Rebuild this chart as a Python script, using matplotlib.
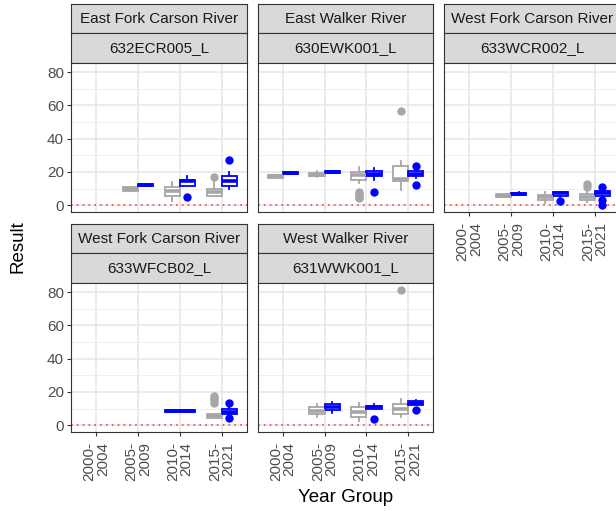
import matplotlib
matplotlib.use("Agg")
import matplotlib.pyplot as plt
from matplotlib.ticker import FixedLocator

plt.rcParams['font.family'] = ['Liberation Sans', 'DejaVu Sans']

# ---------------- data ----------------
year_groups = ["2000-\n2004", "2005-\n2009", "2010-\n2014", "2015-\n2021"]
rivers = ["East Fork Carson River", "East Walker River", "West Fork Carson River",
          "West Fork Carson River", "West Walker River"]
sites = ["632ECR005_L", "630EWK001_L", "633WCR002_L", "633WFCB02_L", "631WWK001_L"]
series_colors = ["#A6A6A6", "#0000FF"]

# box stats per year group: (whisker low, q1, median, q3, whisker high); None = no data
ecr_grey = [None, (8.4, 8.4, 9.8, 11.0, 11.0), (2.8, 5.4, 8.4, 10.8, 13.8), (5.4, 5.4, 7.8, 9.8, 14.4)]
ecr_grey_out = [[], [], [], [17.0]]
ecr_blue = [None, (11.6, 11.6, 12.2, 12.6, 12.6), (11.4, 11.4, 14.6, 15.4, 17.8), (10.0, 11.4, 14.4, 17.8, 19.8)]
ecr_blue_out = [[], [], [5.0], [27.2]]

ewk_grey = [(16.4, 16.6, 17.4, 18.2, 18.4), (17.0, 17.4, 18.4, 19.4, 20.8), (13.4, 15.0, 18.0, 20.0, 22.8), (9.0, 14.4, 15.8, 23.4, 26.8)]
ewk_grey_out = [[], [], [4.2, 5.0, 6.0, 7.0, 8.0], [56.4]]
ewk_blue = [(18.6, 18.6, 19.2, 19.8, 19.8), (19.2, 19.2, 19.8, 20.4, 20.4), (15.4, 17.6, 19.0, 20.4, 22.4), (16.4, 17.6, 19.0, 20.4, 21.8)]
ewk_blue_out = [[], [], [7.8], [12.2, 23.8]]

wcr_grey = [None, (5.0, 5.2, 5.8, 6.6, 6.8), (1.4, 3.0, 4.8, 6.4, 7.8), (2.0, 3.4, 5.0, 6.8, 9.4)]
wcr_grey_out = [[], [], [], [11.0, 12.8]]
wcr_blue = [None, (6.2, 6.4, 7.0, 7.6, 7.8), (4.4, 5.8, 7.2, 7.8, 7.8), (4.4, 5.4, 7.4, 8.4, 9.8)]
wcr_blue_out = [[], [], [2.4], [0.0, 3.4, 11.0]]

wfcb_grey = [None, None, None, (4.6, 4.6, 5.8, 7.0, 7.0)]
wfcb_grey_out = [[], [], [], [13.5, 15.0, 16.5, 17.5]]
wfcb_blue = [None, None, (8.2, 8.2, 8.6, 8.9, 8.9), (5.0, 6.6, 8.0, 9.5, 11.0)]
wfcb_blue_out = [[], [], [], [4.2, 13.5]]

wwk_grey = [None, (5.0, 7.0, 8.6, 11.0, 13.0), (2.4, 5.0, 8.0, 11.0, 13.5), (5.0, 6.6, 10.0, 13.0, 15.5)]
wwk_grey_out = [[], [], [], [81.4]]
wwk_blue = [None, (7.4, 9.0, 11.0, 12.5, 14.0), (9.8, 9.8, 10.7, 11.5, 13.0), (12.0, 12.0, 13.5, 14.5, 15.0)]
wwk_blue_out = [[], [], [3.6], [9.4]]

panel_grey = [ecr_grey, ewk_grey, wcr_grey, wfcb_grey, wwk_grey]
panel_grey_out = [ecr_grey_out, ewk_grey_out, wcr_grey_out, wfcb_grey_out, wwk_grey_out]
panel_blue = [ecr_blue, ewk_blue, wcr_blue, wfcb_blue, wwk_blue]
panel_blue_out = [ecr_blue_out, ewk_blue_out, wcr_blue_out, wfcb_blue_out, wwk_blue_out]

y_ticks = [0, 20, 40, 60, 80]
y_minor = [10, 30, 50, 70]

# ---------------- layout ----------------
W, H = 616, 511
fig = plt.figure(figsize=(W / 100, H / 100), dpi=100)


def rect(l, t, w, h):
    return [l / W, 1 - (t + h) / H, w / W, h / H]


col_left = [71, 257.5, 444]
row_top = [4, 224]
pw, strip_h, panel_h = 176, 29.5, 149
border = '#333333'

for i in range(5):
    r, c = divmod(i, 3)
    left = col_left[c]
    top = row_top[r]
    # strips
    for k, label in enumerate([rivers[i], sites[i]]):
        sax = fig.add_axes(rect(left, top + k * strip_h, pw, strip_h))
        sax.set_facecolor('#D9D9D9')
        sax.set_xticks([])
        sax.set_yticks([])
        for sp in sax.spines.values():
            sp.set_color(border)
            sp.set_linewidth(0.8)
        sax.text(0.5, 0.5, label, ha='center', va='center', fontsize=11,
                 color='#1A1A1A', transform=sax.transAxes)

    ax = fig.add_axes(rect(left, top + 2 * strip_h, pw, panel_h))
    ax.set_facecolor('white')
    ax.set_xlim(0.4, 4.6)
    ax.set_ylim(-4.07, 85.5)
    ax.yaxis.set_major_locator(FixedLocator(y_ticks))
    ax.yaxis.set_minor_locator(FixedLocator(y_minor))
    ax.set_xticks(range(1, 5))
    ax.grid(which='major', color='#E8E8E8', linewidth=1.2)
    ax.grid(which='minor', axis='y', color='#EDEDED', linewidth=0.6)
    ax.set_axisbelow(True)
    for sp in ax.spines.values():
        sp.set_color(border)
        sp.set_linewidth(0.8)

    ax.axhline(0, color='red', linestyle=(0, (1, 2.5)), linewidth=1.2, alpha=0.7, zorder=1.5)

    stats_sets = [(panel_grey[i], panel_grey_out[i]), (panel_blue[i], panel_blue_out[i])]
    for g in range(4):
        present = [s for s in range(2) if stats_sets[s][0][g] is not None]
        for s in present:
            lo, q1, med, q3, hi = stats_sets[s][0][g]
            if len(present) == 2:
                pos = g + 1 + (-0.18 if s == 0 else 0.18)
                wid = 0.36
            else:
                pos = g + 1
                wid = 0.72
            col = series_colors[s]
            st = dict(whislo=lo, q1=q1, med=med, q3=q3, whishi=hi,
                      fliers=stats_sets[s][1][g])
            ax.bxp([st], positions=[pos], widths=[wid], patch_artist=True,
                   showcaps=False, manage_ticks=False,
                   boxprops=dict(facecolor='white', edgecolor=col, linewidth=1.3),
                   whiskerprops=dict(color=col, linewidth=1.3),
                   medianprops=dict(color=col, linewidth=2.6, solid_capstyle='butt'),
                   flierprops=dict(marker='o', markerfacecolor=col, markeredgecolor=col,
                                   markersize=5, linestyle='none'))

    ax.tick_params(which='major', length=3, width=0.8, color=border,
                   labelcolor='#4D4D4D', labelsize=11, pad=2)
    ax.tick_params(axis='x', which='major', pad=4)
    ax.tick_params(which='minor', length=0)
    if c == 0:
        ax.set_yticklabels([str(v) for v in y_ticks])
    else:
        ax.tick_params(axis='y', left=False, labelleft=False)
    show_x = (r == 1) or (i == 2)
    if show_x:
        ax.set_xticklabels(year_groups, rotation=90, va='top', ha='center',
                           multialignment='right', linespacing=0.95)
    else:
        ax.tick_params(axis='x', bottom=False, labelbottom=False)

fig.text(345.5 / W, 1 - 497 / H, "Year Group", ha='center', va='center', fontsize=13.5)
fig.text(18 / W, 1 - 247 / H, "Result", ha='center', va='center', rotation=90, fontsize=13.5)

fig.savefig('out.png', dpi=100)
